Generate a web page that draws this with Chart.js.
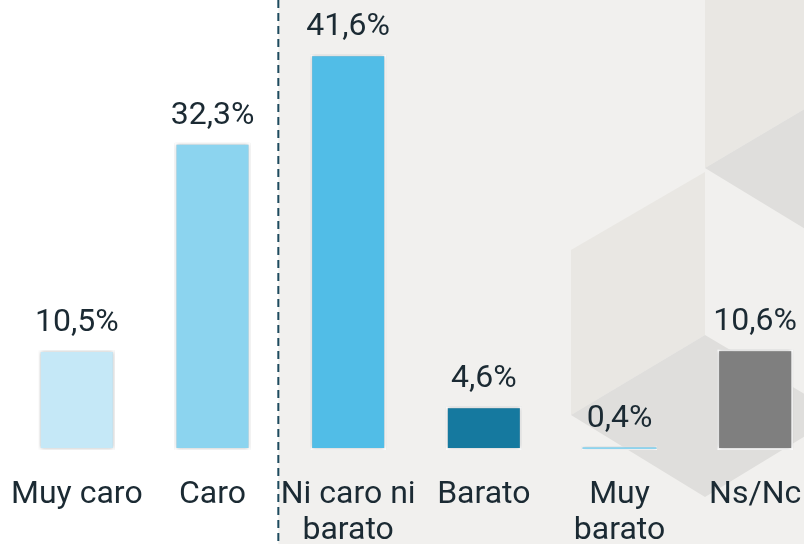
<!DOCTYPE html>
<html>
<head>
<meta charset="utf-8">
<script src="https://cdn.jsdelivr.net/npm/chart.js@4.4.1/dist/chart.umd.min.js"></script>
<style>
  html, body { margin: 0; padding: 0; overflow: hidden; background: #fff; }
  #wrap { position: absolute; left: 0; top: 0; width: 832px; height: 544px; }
</style>
</head>
<body>
<div id="wrap"><canvas id="chart"></canvas></div>
<script>
// data
const categories = ['Muy caro', 'Caro', ['Ni caro ni', 'barato'], 'Barato', ['Muy', 'barato'], 'Ns/Nc'];
const values = [10.5, 32.3, 41.6, 4.6, 0.4, 10.6];
const barColors = ['#c5e8f7', '#8cd4ef', '#51bde7', '#15799f', '#8cd4ef', '#7f7f7f'];

const TEXT = '#1b2a33';
const FONT = 'Roboto, "DejaVu Sans", sans-serif';
const FONT_SIZE = 32;

// background: white left, light grey right of the dashed divider, faint cube shapes
const backdrop = {
  id: 'backdrop',
  beforeDraw(chart) {
    const { ctx, width, height } = chart;
    const x = chart.scales.x;
    const divider = (x.getPixelForValue(1) + x.getPixelForValue(2)) / 2 - 2;
    ctx.save();
    ctx.fillStyle = '#ffffff';
    ctx.fillRect(0, 0, width, height);
    ctx.fillStyle = '#f1f0ee';
    ctx.fillRect(divider, 0, width - divider, height);

    const poly = (pts, color) => {
      ctx.beginPath();
      pts.forEach(([px, py], i) => i ? ctx.lineTo(px, py) : ctx.moveTo(px, py));
      ctx.closePath();
      ctx.fillStyle = color;
      ctx.fill();
    };
    poly([[705, 0], [840, 0], [840, 88], [705, 168]], '#e9e7e3');
    poly([[705, 168], [840, 88], [840, 250]], '#dfdedc');
    poly([[571, 250], [705, 172], [705, 335], [571, 415]], '#e9e7e3');
    poly([[571, 415], [705, 335], [840, 415], [705, 497]], '#dfdedc');

    ctx.strokeStyle = '#1d4a5e';
    ctx.lineWidth = 2;
    ctx.setLineDash([8, 5]);
    ctx.beginPath();
    ctx.moveTo(divider, 0);
    ctx.lineTo(divider, height);
    ctx.stroke();
    ctx.restore();
  }
};

const barShadow = {
  id: 'barShadow',
  beforeDatasetsDraw(chart) {
    const ctx = chart.ctx;
    ctx.save();
    ctx.shadowColor = 'rgba(0,0,0,0.28)';
    ctx.shadowBlur = 4;
  },
  afterDatasetsDraw(chart) {
    chart.ctx.restore();
  }
};

// value labels above the bars and category labels under the axis
const labels = {
  id: 'labels',
  afterDatasetsDraw(chart) {
    const { ctx, chartArea } = chart;
    const x = chart.scales.x;
    const meta = chart.getDatasetMeta(0);
    ctx.save();
    ctx.fillStyle = TEXT;
    ctx.font = FONT_SIZE + 'px ' + FONT;
    ctx.textAlign = 'center';
    ctx.textBaseline = 'alphabetic';
    meta.data.forEach((bar, i) => {
      const txt = values[i].toFixed(1).replace('.', ',') + '%';
      ctx.fillText(txt, bar.x, bar.y - 19);
    });
    categories.forEach((cat, i) => {
      const lines = Array.isArray(cat) ? cat : [cat];
      const cx = x.getPixelForValue(i);
      lines.forEach((line, j) => {
        ctx.fillText(line, cx, chartArea.bottom + 53 + j * 36);
      });
    });
    ctx.restore();
  }
};

new Chart(document.getElementById('chart'), {
  type: 'bar',
  data: {
    labels: categories,
    datasets: [{
      data: values,
      backgroundColor: barColors,
      borderColor: '#ffffff',
      borderWidth: values.map(v => v < 1 ? 1 : 2),
      borderSkipped: false,
      categoryPercentage: 1,
      barPercentage: 0.56
    }]
  },
  options: {
    responsive: true,
    maintainAspectRatio: false,
    animation: false,
    layout: { padding: { left: 9, right: 9, top: 0, bottom: 94 } },
    plugins: {
      legend: { display: false },
      tooltip: { enabled: false }
    },
    scales: {
      x: { display: false },
      y: {
        display: false,
        min: 0,
        max: 47.3
      }
    }
  },
  plugins: [backdrop, barShadow, labels]
});
</script>
</body>
</html>
